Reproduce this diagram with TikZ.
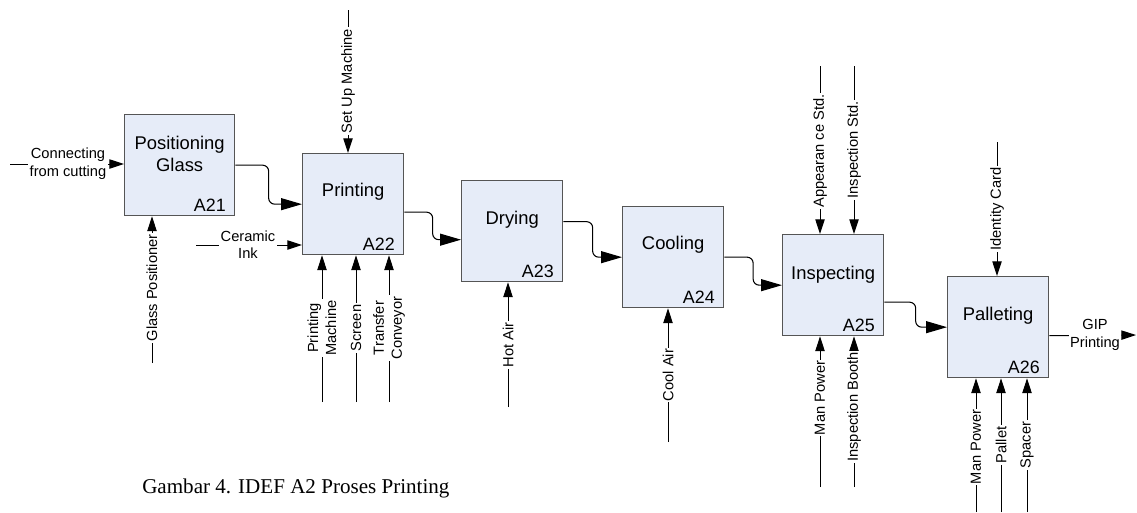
\documentclass[tikz,border=0pt]{standalone}
\usepackage{fontspec}
\setmainfont{Liberation Sans}
\newfontfamily\capfont{Liberation Serif}
\usetikzlibrary{arrows.meta,calc}
\definecolor{boxfill}{RGB}{230,236,248}
\definecolor{boxline}{RGB}{85,85,85}
\begin{document}
\begin{tikzpicture}[x=0.75pt,y=-0.75pt,
  proc/.style={draw=boxline,fill=boxfill,line width=1pt,minimum width=75.75pt,
    minimum height=75.75pt,anchor=north west,inner sep=0pt},
  title/.style={font=\fontsize{13.8}{16.5}\selectfont,align=center,inner sep=0pt},
  idx/.style={font=\fontsize{13.4}{16}\selectfont,anchor=south east,
    inner xsep=7pt,inner ysep=3.6pt},
  lbl/.style={font=\fontsize{11}{13.5}\selectfont,fill=white,inner sep=1pt,align=center},
  flow/.style={line width=0.8pt,rounded corners=4.5pt,-{Triangle[length=15.75pt,width=9pt]}},
  arr/.style={line width=0.75pt,-{Triangle[length=11pt,width=7pt]}}]
\useasboundingbox (0,0) rectangle (1137,512);

% activity boxes
\node[proc,minimum width=82.5pt] (a21) at (124,114) {};
\node[proc] (a22) at (302,153) {};
\node[proc] (a23) at (461,180) {};
\node[proc] (a24) at (622,206) {};
\node[proc] (a25) at (782,234) {};
\node[proc] (a26) at (947,276) {};

% box titles and numbers
\node[title] (t21) at ($(a21.north)+(0,40)$) {Positioning\\Glass};
\node[title] (t22) at ($(a22.north)+(0,39)$) {Printing};
\node[title] (t23) at ($(a23.north)+(0,40)$) {Drying};
\node[title] (t24) at ($(a24.north)+(0,39)$) {Cooling};
\node[title] (t25) at ($(a25.north)+(0,41)$) {Inspecting};
\node[title] (t26) at ($(a26.north)+(0,40)$) {Palleting};
\node[idx] (n21) at (a21.south east) {A21};
\node[idx] (n22) at (a22.south east) {A22};
\node[idx] (n23) at (a23.south east) {A23};
\node[idx] (n24) at (a24.south east) {A24};
\node[idx] (n25) at (a25.south east) {A25};
\node[idx] (n26) at (a26.south east) {A26};

% flow between activities
\coordinate (o22) at ($(a22.east)+(0,8)$);
\coordinate (i23) at ($(a23.west)+(0,8.5)$);
\coordinate (o23) at ($(a23.east)+(0,-9.5)$);
\coordinate (o25) at ($(a25.east)+(0,17)$);
\draw[flow] (a21.east) -| ($(a21.east)!0.5!(a22.west)$) |- (a22.west);
\draw[flow] (o22) -| ($(o22)!0.5!(i23)$) |- (i23);
\draw[flow] (o23) -| ($(o23)!0.5!(a24.west)$) |- (a24.west);
\draw[flow] (a24.east) -| ($(a24.east)!0.5!(a25.west)$) |- (a25.west);
\draw[flow] (o25) -| ($(o25)!0.5!(a26.west)$) |- (a26.west);

% inputs and output
\coordinate (cin) at (10,164);
\draw[arr] (cin) -- (cin -| a21.west);
\node[lbl] (lcin) at (68,164) {Connecting\\from cutting};
\coordinate (ink) at (196,245);
\draw[arr] (ink) -- (ink -| a22.west);
\node[lbl,font=\fontsize{11}{12.75}\selectfont] (link) at (248,245) {Ceramic\\Ink};
\coordinate (o26) at ($(a26.east)+(0,8.5)$);
\coordinate (gip) at (1136,335);
\draw[arr] (o26) -- (gip);
\node[lbl] (lgip) at (1095,335) {GIP\\Printing};

% controls
\coordinate (c22) at (348,10);
\draw[arr] (c22) -- (c22 |- a22.north);
\node[lbl,rotate=90] (lc22) at (348,81) {Set Up Machine};
\coordinate (c25a) at (820,66);
\draw[arr] (c25a) -- (c25a |- a25.north);
\node[lbl,rotate=90] (lc25a) at (820,151) {Appearan ce Std.};
\coordinate (c25b) at (854,66);
\draw[arr] (c25b) -- (c25b |- a25.north);
\node[lbl,rotate=90] (lc25b) at (854,150) {Inspection Std.};
\coordinate (c26) at (997,142);
\draw[arr] (c26) -- (c26 |- a26.north);
\node[lbl,rotate=90] (lc26) at (997,209) {Identity Card};

% mechanisms
\coordinate (m21) at (152,363);
\draw[arr] (m21) -- (m21 |- a21.south);
\node[lbl,rotate=90] (lm21) at (152,288) {Glass Positioner};
\coordinate (m22a) at (322,402);
\draw[arr] (m22a) -- (m22a |- a22.south);
\node[lbl,rotate=90] (lm22a) at (322,328) {Printing\\Machine};
\coordinate (m22b) at (356,402);
\draw[arr] (m22b) -- (m22b |- a22.south);
\node[lbl,rotate=90] (lm22b) at (356,328) {Screen};
\coordinate (m22c) at (389,402);
\draw[arr] (m22c) -- (m22c |- a22.south);
\node[lbl,rotate=90] (lm22c) at (389,328) {Transfer\\Conveyor};
\coordinate (m23) at (508,407);
\draw[arr] (m23) -- (m23 |- a23.south);
\node[lbl,rotate=90] (lm23) at (508,345) {Hot Air};
\coordinate (m24) at (668,442);
\draw[arr] (m24) -- (m24 |- a24.south);
\node[lbl,rotate=90] (lm24) at (668,375) {Cool Air};
\coordinate (m25a) at (820,487);
\draw[arr] (m25a) -- (m25a |- a25.south);
\node[lbl,rotate=90] (lm25a) at (820,398) {Man Power};
\coordinate (m25b) at (854,487);
\draw[arr] (m25b) -- (m25b |- a25.south);
\node[lbl,rotate=90] (lm25b) at (854,407) {Inspection Booth};
\coordinate (m26a) at (976,512);
\draw[arr] (m26a) -- (m26a |- a26.south);
\node[lbl,rotate=90] (lm26a) at (976,447) {Man Power};
\coordinate (m26b) at (1001,512);
\draw[arr] (m26b) -- (m26b |- a26.south);
\node[lbl,rotate=90] (lm26b) at (1001,445) {Pallet};
\coordinate (m26c) at (1027,512);
\draw[arr] (m26c) -- (m26c |- a26.south);
\node[lbl,rotate=90] (lm26c) at (1027,445) {Spacer};

% caption
\node[anchor=base west,inner sep=0pt,font=\capfont\fontsize{15.8}{19}\selectfont] (cap)
  at (142,493) {Gambar 4. IDEF A2 Proses Printing};
\end{tikzpicture}
\end{document}
